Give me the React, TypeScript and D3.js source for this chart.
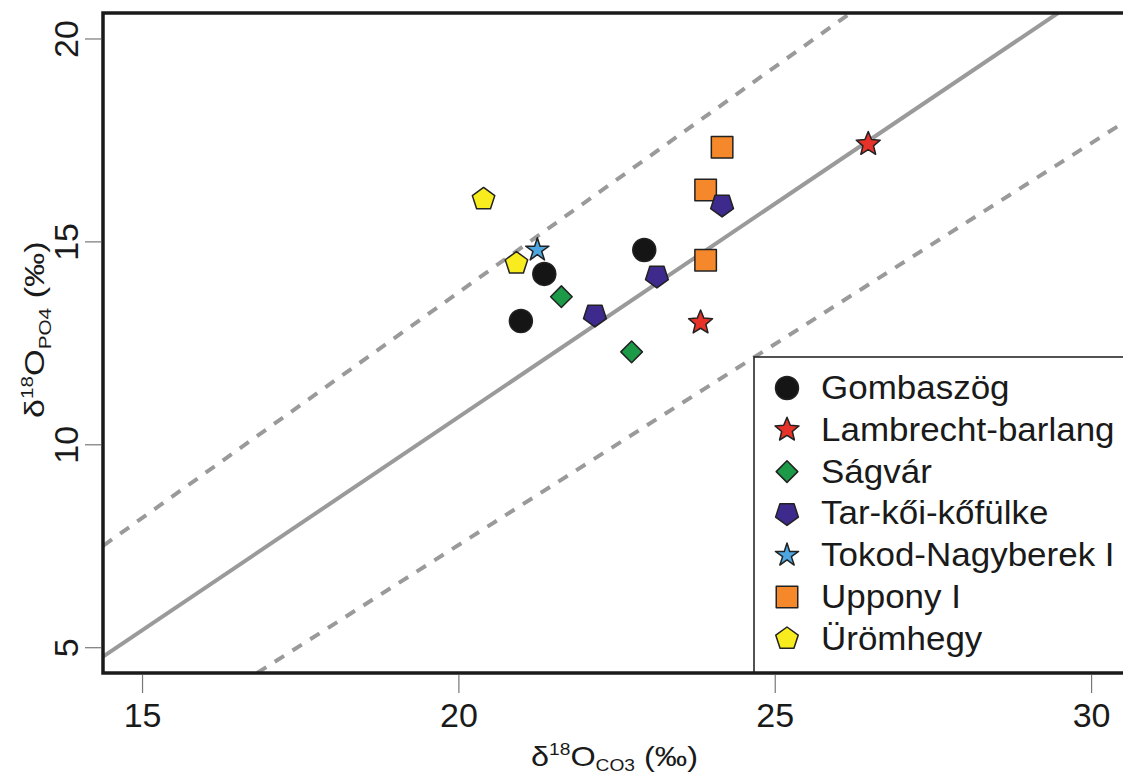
import React from "react";
import * as d3 from "d3";

// sites in legend order
const sites = [
  "Gombaszög",
  "Lambrecht-barlang",
  "Ságvár",
  "Tar-kői-kőfülke",
  "Tokod-Nagyberek I",
  "Uppony I",
  "Ürömhegy",
];

// d18O carbonate (x) / phosphate (y) per site
const gombaszogX = [20.98, 21.35, 22.93];
const gombaszogY = [13.05, 14.21, 14.8];
const lambrechtX = [23.82, 26.47];
const lambrechtY = [13.01, 17.41];
const sagvarX = [21.62, 22.73];
const sagvarY = [13.65, 12.29];
const tarkoiX = [22.15, 23.13, 24.16];
const tarkoiY = [13.2, 14.16, 15.91];
const tokodX = [21.24];
const tokodY = [14.8];
const upponyX = [23.9, 23.9, 24.16];
const upponyY = [14.55, 16.28, 17.33];
const uromhegyX = [20.39, 20.91];
const uromhegyY = [16.05, 14.47];

// reference lines, end points
const solidLine = [[14.376, 4.78], [29.47, 20.64]];
const upperDashed = [[14.376, 7.51], [26.19, 20.64]];
const lowerDashed = [[16.81, 4.377], [30.8, 18.23]];

const xTicks = [15, 20, 25, 30];
const yTicks = [5, 10, 15, 20];

const W = 1123;
const H = 776;
const left = 103;
const top = 13;
const bottom = 673;
const rightEdge = 1142;

const xScale = d3.scaleLinear().domain([14.375, 30.797]).range([left, rightEdge]);
const yScale = d3.scaleLinear().domain([4.377, 20.64]).range([bottom, top]);

const FONT = "'Liberation Sans', Arial, Helvetica, sans-serif";
const INK = "#1a1a1a";
const LINE = "#9a9a9a";

const closed = d3.line().curve(d3.curveLinearClosed);

function polygon(n: number, r: number, start: number) {
  const pts: [number, number][] = [];
  for (let i = 0; i < n; i++) {
    const a = start + (i * 2 * Math.PI) / n;
    pts.push([r * Math.cos(a), r * Math.sin(a)]);
  }
  return closed(pts) as string;
}

function star(outer: number, inner: number) {
  const pts: [number, number][] = [];
  for (let i = 0; i < 10; i++) {
    const a = -Math.PI / 2 + (i * Math.PI) / 5;
    const r = i % 2 === 0 ? outer : inner;
    pts.push([r * Math.cos(a), r * Math.sin(a)]);
  }
  return closed(pts) as string;
}

const shapes: Record<string, string> = {
  "Gombaszög": d3.symbol(d3.symbolCircle, Math.PI * 11.5 * 11.5)() as string,
  "Lambrecht-barlang": star(12.6, 5.6),
  "Ságvár": polygon(4, 10.8, -Math.PI / 2),
  "Tar-kői-kőfülke": polygon(5, 12, Math.PI / 2),
  "Tokod-Nagyberek I": star(12.2, 4.6),
  "Uppony I": d3.symbol(d3.symbolSquare, 21.5 * 21.5)() as string,
  "Ürömhegy": polygon(5, 11.8, -Math.PI / 2),
};

const colors: Record<string, string> = {
  "Gombaszög": "#151515",
  "Lambrecht-barlang": "#e63228",
  "Ságvár": "#1c9a48",
  "Tar-kői-kőfülke": "#3d2a8c",
  "Tokod-Nagyberek I": "#4ea6e0",
  "Uppony I": "#f5882a",
  "Ürömhegy": "#f8ec1e",
};

const seriesX: Record<string, number[]> = {
  "Gombaszög": gombaszogX,
  "Lambrecht-barlang": lambrechtX,
  "Ságvár": sagvarX,
  "Tar-kői-kőfülke": tarkoiX,
  "Tokod-Nagyberek I": tokodX,
  "Uppony I": upponyX,
  "Ürömhegy": uromhegyX,
};
const seriesY: Record<string, number[]> = {
  "Gombaszög": gombaszogY,
  "Lambrecht-barlang": lambrechtY,
  "Ságvár": sagvarY,
  "Tar-kői-kőfülke": tarkoiY,
  "Tokod-Nagyberek I": tokodY,
  "Uppony I": upponyY,
  "Ürömhegy": uromhegyY,
};

// paint order so overlaps look like the original
const drawOrder = [
  "Uppony I",
  "Ürömhegy",
  "Gombaszög",
  "Ságvár",
  "Tar-kői-kőfülke",
  "Lambrecht-barlang",
  "Tokod-Nagyberek I",
];

const lineGen = d3
  .line<number[]>()
  .x((d) => xScale(d[0]))
  .y((d) => yScale(d[1]));

export default function App() {
  const legendX = 754;
  const legendTop = 357;
  const rowH = 41.8;
  const firstBase = 399;

  return (
    <svg
      width={W}
      height={H}
      style={{ position: "absolute", left: 0, top: 0, background: "#fff" }}
      fontFamily={FONT}
    >
      <defs>
        <clipPath id="plot">
          <rect x={left} y={top} width={rightEdge - left} height={bottom - top} />
        </clipPath>
      </defs>

      <g clipPath="url(#plot)">
        <path d={lineGen(solidLine) as string} stroke={LINE} strokeWidth={4} fill="none" />
        <path
          d={lineGen(upperDashed) as string}
          stroke={LINE}
          strokeWidth={4}
          strokeDasharray="11 10"
          fill="none"
        />
        <path
          d={lineGen(lowerDashed) as string}
          stroke={LINE}
          strokeWidth={4}
          strokeDasharray="11 10"
          fill="none"
        />
      </g>

      {/* points */}
      {drawOrder.map((s) =>
        seriesX[s].map((v, i) => (
          <path
            key={s + i}
            d={shapes[s]}
            transform={`translate(${xScale(v)},${yScale(seriesY[s][i])})`}
            fill={colors[s]}
            stroke="#222"
            strokeWidth={1.5}
            strokeLinejoin="round"
          />
        ))
      )}

      {/* legend */}
      <rect
        x={legendX}
        y={legendTop}
        width={rightEdge - legendX}
        height={bottom - legendTop}
        fill="#fff"
        stroke={INK}
        strokeWidth={1.5}
      />
      {sites.map((s, i) => {
        const base = firstBase + i * rowH;
        return (
          <g key={s}>
            <path
              d={shapes[s]}
              transform={`translate(787,${base - 11})`}
              fill={colors[s]}
              stroke="#222"
              strokeWidth={1.5}
              strokeLinejoin="round"
            />
            <text
              transform={`translate(821,${base}) scale(1.06,1)`}
              fontSize={33}
              fill={INK}
            >
              {s}
            </text>
          </g>
        );
      })}

      {/* frame */}
      <rect
        x={left}
        y={top}
        width={rightEdge - left}
        height={bottom - top}
        fill="none"
        stroke={INK}
        strokeWidth={3.5}
      />

      {/* x axis */}
      {xTicks.map((t) => (
        <g key={"x" + t}>
          <line
            x1={xScale(t)}
            x2={xScale(t)}
            y1={bottom + 2}
            y2={bottom + 20}
            stroke="#777"
            strokeWidth={1.2}
          />
          <text x={xScale(t)} y={727} textAnchor="middle" fontSize={34} fill={INK}>
            {t}
          </text>
        </g>
      ))}
      <text transform="translate(531,766) scale(1.2,1)" fontSize={27} fill={INK}>
        δ
        <tspan fontSize={16} dy={-11}>18</tspan>
        <tspan dy={11}>O</tspan>
        <tspan fontSize={16} dy={5}>CO3</tspan>
        <tspan dy={-5}> (‰)</tspan>
      </text>

      {/* y axis */}
      {yTicks.map((t) => (
        <g key={"y" + t}>
          <line
            x1={left - 18}
            x2={left - 2}
            y1={yScale(t)}
            y2={yScale(t)}
            stroke="#777"
            strokeWidth={1.2}
          />
          <text
            transform={`translate(78,${yScale(t)}) rotate(-90)`}
            textAnchor="middle"
            fontSize={34}
            fill={INK}
          >
            {t}
          </text>
        </g>
      ))}
      <text transform="translate(44,418) rotate(-90) scale(1.22,1)" fontSize={28} fill={INK}>
        δ
        <tspan fontSize={17} dy={-11}>18</tspan>
        <tspan dy={11}>O</tspan>
        <tspan fontSize={17} dy={7}>PO4</tspan>
        <tspan dy={-7}> (‰)</tspan>
      </text>
    </svg>
  );
}
